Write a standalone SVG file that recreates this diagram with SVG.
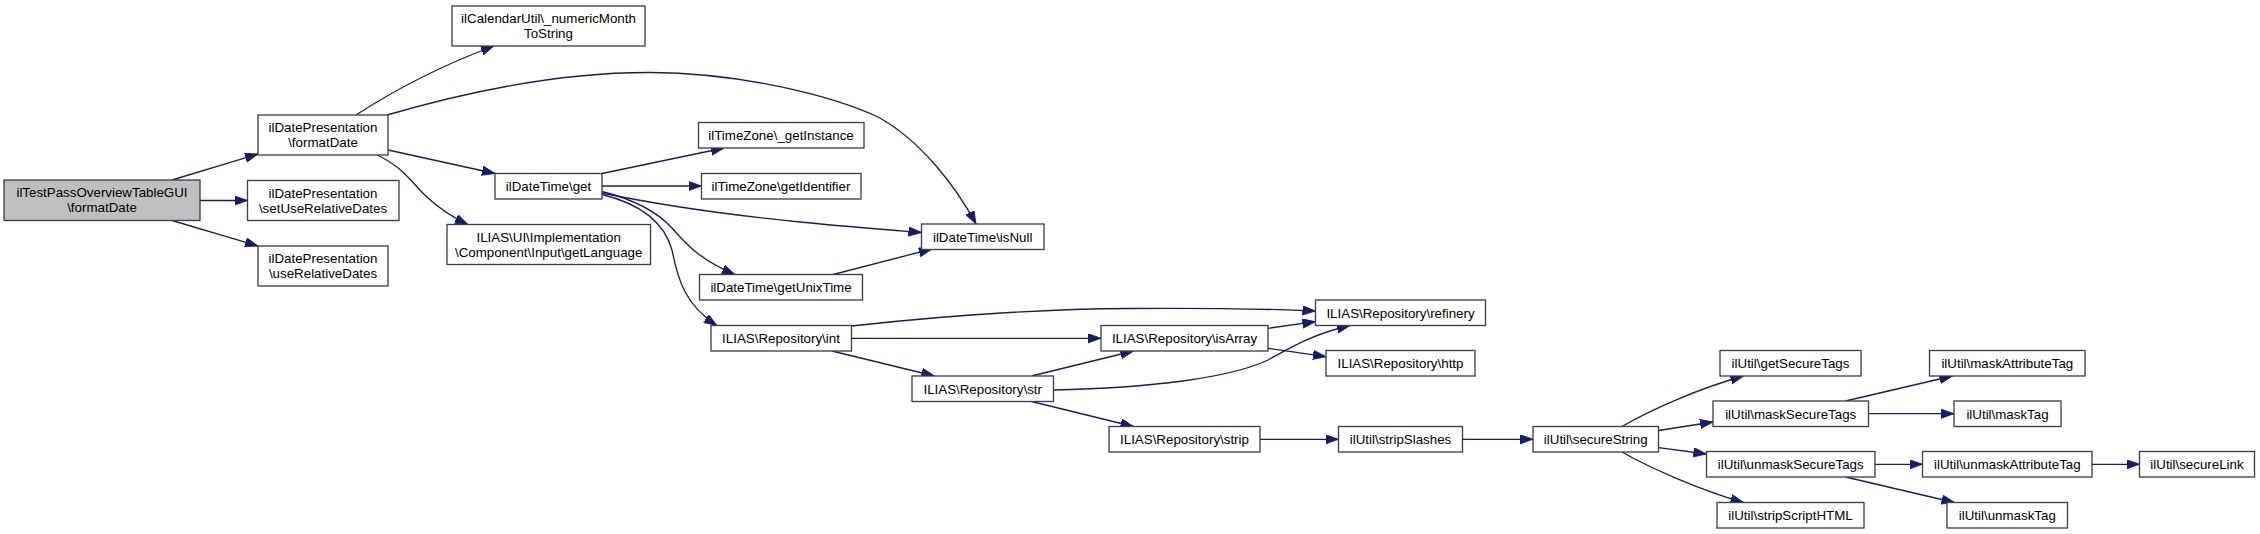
<svg xmlns="http://www.w3.org/2000/svg" width="2260" height="534" viewBox="0 0 2260 534">
<defs>
<style>
.n rect{fill:#fff;stroke:#404040;stroke-width:1.33}
.n.root rect{fill:#bfbfbf}
.n text{font-family:"Liberation Sans",Arial,sans-serif;font-size:13.33px;fill:#000;text-anchor:middle}
#edges path{fill:none;stroke:#191970;stroke-width:1.33;marker-end:url(#ah)}
</style>
<marker id="ah" markerUnits="userSpaceOnUse" markerWidth="14" markerHeight="10" refX="13" refY="4.7" orient="auto">
<path d="M0,0 L13,4.7 L0,9.4 z" fill="#191970" stroke="#191970" stroke-width="0.8"/>
</marker>
</defs>
<rect width="2260" height="534" fill="#fff"/>
<g id="edges">
<path d="M172,180 L258,154"/>
<path d="M200,200.5 L247.5,200.5"/>
<path d="M172,220.5 L258,246"/>
<path d="M356,115 C390,93 440,66 494,46"/>
<path d="M387,115 C480,88 570,72 651,72.5 C740,73 830,95 878,117 C920,140 955,185 976,224"/>
<path d="M388,150 L495,173.5"/>
<path d="M377,155 C405,168 413,185 428,198 C440,209 452,217 468,224.5"/>
<path d="M602,173.5 L724,148"/>
<path d="M602,186 L701.5,186"/>
<path d="M602,193 C650,203 720,214 800,222 C850,227 890,230 921.5,232.5"/>
<path d="M602,191.5 C640,201 660,215 672,228 C685,243 700,260 735,274.5"/>
<path d="M602,194.5 C645,205 665,225 672,250 C678,280 685,305 717,325.5"/>
<path d="M833,274.5 L932,249"/>
<path d="M851.5,326 C950,315 1050,309 1130,308.5 C1200,308 1270,309 1315.5,311"/>
<path d="M851.5,338.3 L1101,338.3"/>
<path d="M832,351 L934.5,376"/>
<path d="M1031.5,376 L1133.5,351"/>
<path d="M1053.5,390 C1150,388 1230,378 1268,360 C1290,348 1310,335 1350,325.5"/>
<path d="M1268,328.3 L1315.5,321.7"/>
<path d="M1268,348.3 L1326,356.7"/>
<path d="M1031.5,401.5 L1133.5,426.5"/>
<path d="M1260,439.3 L1338.5,439.3"/>
<path d="M1462.5,439.3 L1533,439.3"/>
<path d="M1622,426.5 C1650,410 1700,388 1743.5,376"/>
<path d="M1658.5,430.5 L1713,422"/>
<path d="M1658.5,447.7 L1706.5,454"/>
<path d="M1622,452 C1650,468 1700,490 1743.5,502.5"/>
<path d="M1845.5,401 L1952.5,376"/>
<path d="M1868.5,413.7 L1954,413.7"/>
<path d="M1874.8,464.3 L1922.5,464.3"/>
<path d="M1845.5,477 L1954.5,502.5"/>
<path d="M2092,464.3 L2139.5,464.3"/>
</g>
<g id="n0" class="n root"><rect x="4" y="180" width="196" height="40.5"/><text x="102" y="197">ilTestPassOverviewTableGUI</text><text x="102" y="212">\formatDate</text></g>
<g id="n1" class="n"><rect x="258" y="115" width="130" height="40"/><text x="323" y="132">ilDatePresentation</text><text x="323" y="147">\formatDate</text></g>
<g id="n2" class="n"><rect x="247.5" y="180.5" width="151.5" height="40"/><text x="323" y="197.5">ilDatePresentation</text><text x="323" y="212.5">\setUseRelativeDates</text></g>
<g id="n3" class="n"><rect x="258" y="246" width="130" height="40"/><text x="323" y="263">ilDatePresentation</text><text x="323" y="278">\useRelativeDates</text></g>
<g id="n4" class="n"><rect x="452" y="6" width="193" height="40"/><text x="548.5" y="23">ilCalendarUtil\_numericMonth</text><text x="548.5" y="38">ToString</text></g>
<g id="n5" class="n"><rect x="495" y="173.5" width="107" height="25.5"/><text x="548.5" y="191">ilDateTime\get</text></g>
<g id="n6" class="n"><rect x="447" y="224.5" width="203.5" height="40"/><text x="548.7" y="241.5">ILIAS\UI\Implementation</text><text x="548.7" y="256.5">\Component\Input\getLanguage</text></g>
<g id="n7" class="n"><rect x="698.5" y="122.5" width="165.5" height="25.5"/><text x="781" y="140">ilTimeZone\_getInstance</text></g>
<g id="n8" class="n"><rect x="701.5" y="173.5" width="159.5" height="25.5"/><text x="781" y="191">ilTimeZone\getIdentifier</text></g>
<g id="n9" class="n"><rect x="699.5" y="274.5" width="163" height="25.5"/><text x="781" y="292">ilDateTime\getUnixTime</text></g>
<g id="n10" class="n"><rect x="711" y="325.5" width="140.5" height="25.5"/><text x="781" y="343">ILIAS\Repository\int</text></g>
<g id="n11" class="n"><rect x="921.5" y="224" width="122.5" height="25.5"/><text x="982.7" y="241.5">ilDateTime\isNull</text></g>
<g id="n12" class="n"><rect x="912" y="376" width="141.5" height="25.5"/><text x="982.7" y="393.5">ILIAS\Repository\str</text></g>
<g id="n13" class="n"><rect x="1101" y="325.5" width="167" height="25.5"/><text x="1184.5" y="343">ILIAS\Repository\isArray</text></g>
<g id="n14" class="n"><rect x="1109" y="426.5" width="151" height="25.5"/><text x="1184.5" y="444">ILIAS\Repository\strip</text></g>
<g id="n15" class="n"><rect x="1315.5" y="300" width="170" height="25.5"/><text x="1400.5" y="317.5">ILIAS\Repository\refinery</text></g>
<g id="n16" class="n"><rect x="1326" y="350.5" width="149" height="25.5"/><text x="1400.5" y="368">ILIAS\Repository\http</text></g>
<g id="n17" class="n"><rect x="1338.5" y="426.5" width="124" height="25.5"/><text x="1400.5" y="444">ilUtil\stripSlashes</text></g>
<g id="n18" class="n"><rect x="1533" y="426.5" width="125.5" height="25.5"/><text x="1595.7" y="444">ilUtil\secureString</text></g>
<g id="n19" class="n"><rect x="1720" y="350.5" width="141" height="25.5"/><text x="1790.5" y="368">ilUtil\getSecureTags</text></g>
<g id="n20" class="n"><rect x="1713" y="401" width="155.5" height="25.5"/><text x="1790.7" y="418.5">ilUtil\maskSecureTags</text></g>
<g id="n21" class="n"><rect x="1706.5" y="451.5" width="168.5" height="25.5"/><text x="1790.7" y="469">ilUtil\unmaskSecureTags</text></g>
<g id="n22" class="n"><rect x="1717" y="502.5" width="147" height="25.5"/><text x="1790.5" y="520">ilUtil\stripScriptHTML</text></g>
<g id="n23" class="n"><rect x="1929.5" y="350.5" width="155.5" height="25.5"/><text x="2007.3" y="368">ilUtil\maskAttributeTag</text></g>
<g id="n24" class="n"><rect x="1954" y="401" width="107" height="25.5"/><text x="2007.5" y="418.5">ilUtil\maskTag</text></g>
<g id="n25" class="n"><rect x="1922.5" y="451.5" width="169.5" height="25.5"/><text x="2007.3" y="469">ilUtil\unmaskAttributeTag</text></g>
<g id="n26" class="n"><rect x="1947" y="502.5" width="120.5" height="25.5"/><text x="2007.3" y="520">ilUtil\unmaskTag</text></g>
<g id="n27" class="n"><rect x="2139.5" y="451.5" width="115" height="25.5"/><text x="2197" y="469">ilUtil\secureLink</text></g>
</svg>
